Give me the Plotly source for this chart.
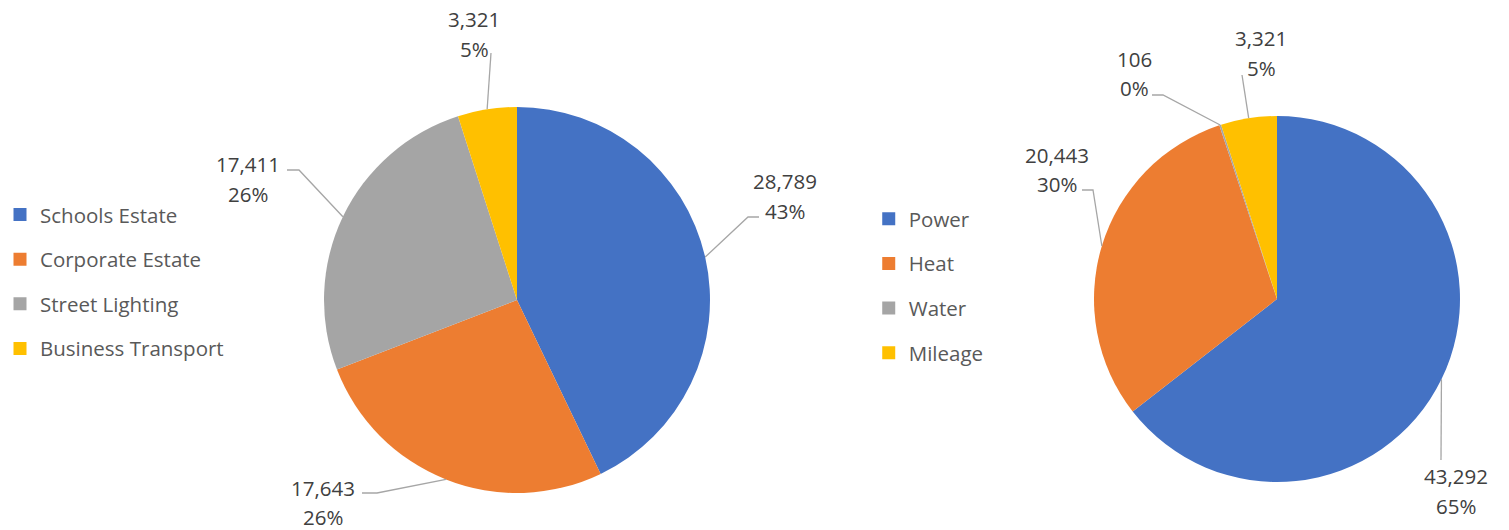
import math
import plotly.graph_objects as go

# ---- data ----
estate_labels = ["Schools Estate", "Corporate Estate", "Street Lighting", "Business Transport"]
estate_values = [28789, 17643, 17411, 3321]
estate_pct_labels = ["43%", "26%", "26%", "5%"]
type_labels = ["Power", "Heat", "Water", "Mileage"]
type_values = [43292, 20443, 106, 3321]
type_pct_labels = ["65%", "30%", "0%", "5%"]
colors = ["#4472C4", "#ED7D31", "#A5A5A5", "#FFC000"]

# ---- layout / style ----
W, H = 1509, 530
FONT = "Open Sans"
FS = 20.5
LINE_GAP = 29.5
pies = [
    dict(labels=estate_labels, values=estate_values, pcts=estate_pct_labels,
         cx=517, cy=300, r=193, legend="legend",
         # label block centre offsets (px from pie centre), leader knee offsets, horizontal stub length
         lab=[(268, -104), (-194, 202.5), (-269, -121), (-43, -266)],
         knee=[(231, -83), (-140, 193), (-218, -130), (-26, -247)],
         stub=[11, -15, -12, 0]),
    dict(labels=type_labels, values=type_values, pcts=type_pct_labels,
         cx=1277, cy=299, r=183, legend="legend2",
         lab=[(179, 192), (-220, -129.5), (-143, -225.5), (-16, -246)],
         knee=[(164, 161), (-184, -109), (-114, -204), (-35, -224)],
         stub=[0, -11, -11, 0]),
]

fig = go.Figure()
annotations = []
shapes = []

def px2paper(x, y):
    return x / W, 1 - y / H

for p in pies:
    cx, cy, r = p["cx"], p["cy"], p["r"]
    fig.add_trace(go.Pie(
        labels=p["labels"], values=p["values"], sort=False, direction="clockwise",
        rotation=0, textinfo="none", hoverinfo="label+value+percent",
        marker=dict(colors=colors, line=dict(width=0)), showlegend=False,
        domain=dict(x=[(cx - r) / W, (cx + r) / W], y=[(H - cy - r) / H, (H - cy + r) / H]),
    ))
    total = sum(p["values"])
    cum = 0
    for i, v in enumerate(p["values"]):
        mid = (cum + v / 2) / total * 2 * math.pi
        cum += v
        ex, ey = cx + r * math.sin(mid), cy - r * math.cos(mid)
        kx, ky = cx + p["knee"][i][0], cy + p["knee"][i][1]
        sx = kx + p["stub"][i]
        pts = [px2paper(ex, ey), px2paper(kx, ky), px2paper(sx, ky)]
        path = "M {} {} L {} {} L {} {}".format(*[c for pt in pts for c in pt])
        shapes.append(dict(type="path", xref="paper", yref="paper", path=path,
                           line=dict(color="#A6A6A6", width=1.3)))
        bx, by = cx + p["lab"][i][0], cy + p["lab"][i][1]
        for txt, dy in ((f"{v:,}", -LINE_GAP / 2), (p["pcts"][i], LINE_GAP / 2)):
            lx, ly = px2paper(bx, by + dy)
            annotations.append(dict(x=lx, y=ly, xref="paper", yref="paper", showarrow=False,
                                    xanchor="center", yanchor="middle", text=txt,
                                    font=dict(family=FONT, size=FS, color="#404040")))
    # legend entries
    for lab, col in zip(p["labels"], colors):
        fig.add_trace(go.Scatter(x=[None], y=[None], mode="markers", name=lab,
                                 legendgroup=p["legend"] + lab, legend=p["legend"],
                                 marker=dict(symbol="square", size=13, color=col),
                                 hoverinfo="skip"))

legend_common = dict(font=dict(family=FONT, size=FS, color="#595959"), tracegroupgap=15,
                     bgcolor="rgba(0,0,0,0)", xanchor="left", yanchor="top", itemwidth=30)
fig.update_layout(
    width=W, height=H, margin=dict(l=0, r=0, t=0, b=0),
    paper_bgcolor="white", plot_bgcolor="white",
    xaxis=dict(visible=False), yaxis=dict(visible=False),
    legend=dict(x=0, y=0.6326, **legend_common),
    legend2=dict(x=0.5757, y=0.6246, **legend_common),
    annotations=annotations, shapes=shapes,
    font=dict(family=FONT),
)
fig.write_html("out.html", config={"displayModeBar": False},
               post_script="document.body.style.margin='0';")
